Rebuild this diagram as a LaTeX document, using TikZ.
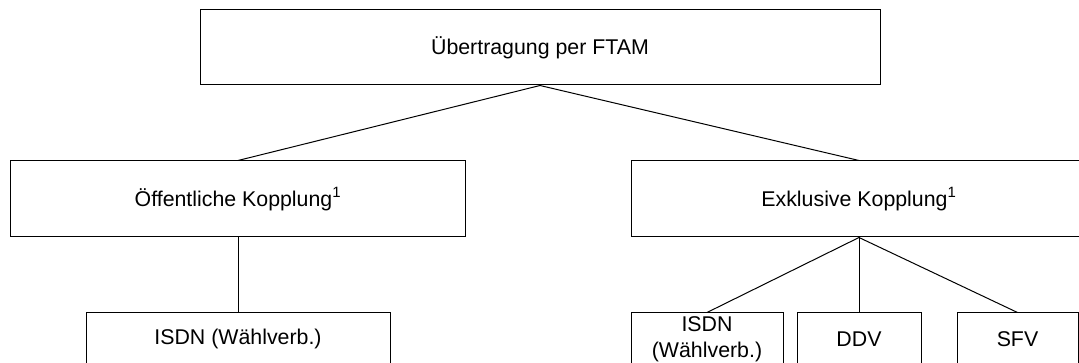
\documentclass[tikz,border=0pt]{standalone}
\usepackage{fontspec}
\setmainfont{Liberation Sans}
\usetikzlibrary{positioning}

\tikzset{
  box/.style={draw, rectangle, inner sep=0pt, align=center,
    font=\fontsize{16}{19.5}\selectfont, line width=0.75pt},
  link/.style={line width=0.75pt}
}

\begin{document}
\begin{tikzpicture}[node distance=105pt]
        \useasboundingbox (0,0) rectangle (809.25pt,-272.25pt);
        \clip (0,0) rectangle (809.25pt,-272.25pt);

        \node[box, minimum width=510pt, minimum height=56.25pt] (ftam) at (405pt,-35.625pt) {Übertragung per FTAM};

        % Kopplungsarten
        \node[box, minimum width=341.25pt, minimum height=57pt] (pub) [below of=ftam, node distance=113.625pt, xshift=-226.5pt] {Öffentliche Kopplung\textsuperscript{1}};
        \node[box, minimum width=341.25pt, minimum height=57pt] (exk) [right of=pub, node distance=465.75pt] {Exklusive Kopplung\textsuperscript{1}};

        % Verbindungen
        \node[box, minimum width=228pt, minimum height=39pt] (isdnA) [below of=pub] {ISDN (Wählverb.)};
        \node[box, minimum width=93pt, minimum height=39pt] (ddv) [below of=exk] {DDV};
        \node[box, minimum width=114pt, minimum height=39pt] (isdnB) [left of=ddv, node distance=114pt] {ISDN\\(Wählverb.)};
        \node[box, minimum width=90.75pt, minimum height=39pt] (sfv) [right of=ddv, node distance=118.875pt] {SFV};

        \draw[link] (ftam.south) -- (pub.north);
        \draw[link] (ftam.south) -- (exk.north);
        \draw[link] (pub.south) -- (isdnA.north);
        \draw[link] (exk.south) -- (isdnB.north);
        \draw[link] (exk.south) -- (ddv.north);
        \draw[link] (exk.south) -- (sfv.north);
    \end{tikzpicture}
\end{document}
